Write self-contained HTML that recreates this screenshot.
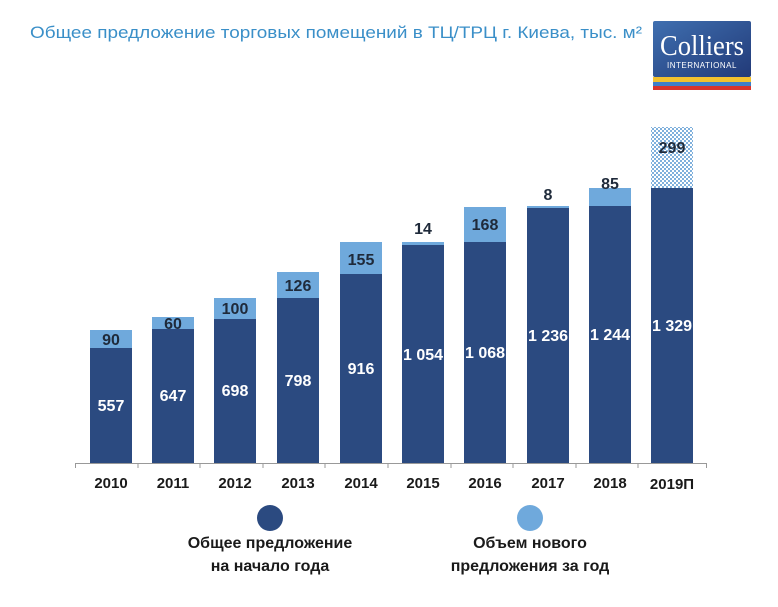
<!DOCTYPE html>
<html><head><meta charset="utf-8"><style>
body{margin:0;background:#fff;width:778px;height:607px;overflow:hidden}
svg{display:block}
text{font-family:"Liberation Sans",sans-serif}
</style></head><body>
<svg width="778" height="607" viewBox="0 0 778 607">
<defs>
<pattern id="h" width="4" height="4" patternUnits="userSpaceOnUse">
<rect width="4" height="4" fill="#ffffff"/>
<rect width="2" height="2" fill="#7fb0dc"/><rect x="2" y="2" width="2" height="2" fill="#7fb0dc"/>
</pattern>
<linearGradient id="lg" x1="0" y1="0" x2="1" y2="1">
<stop offset="0" stop-color="#3f6fb0"/><stop offset="1" stop-color="#223a78"/>
</linearGradient>
</defs>
<text x="30" y="38" font-size="17" fill="#3a8fc8" textLength="612" lengthAdjust="spacingAndGlyphs">Общее предложение торговых помещений в ТЦ/ТРЦ  г. Киева, тыс. м²</text>
<rect x="653" y="21" width="98" height="56" fill="url(#lg)" rx="2"/>
<text x="702" y="55" font-size="28" fill="#fff" text-anchor="middle" textLength="84" lengthAdjust="spacingAndGlyphs" style="font-family:'Liberation Serif',serif">Colliers</text>
<text x="702" y="68" font-size="8" fill="#fff" text-anchor="middle" letter-spacing="0.5">INTERNATIONAL</text>
<rect x="653" y="77" width="98" height="5" fill="#f2c12e"/>
<rect x="653" y="82" width="98" height="4" fill="#3f7fc8"/>
<rect x="653" y="86" width="98" height="4" fill="#d8342c"/>
<g id="bars">
<rect x="90" y="348" width="42" height="115" fill="#2b4a80"/><rect x="90" y="330" width="42" height="18" fill="#6fa9dc"/>
<rect x="152" y="329" width="42" height="134" fill="#2b4a80"/><rect x="152" y="317" width="42" height="12" fill="#6fa9dc"/>
<rect x="214" y="319" width="42" height="144" fill="#2b4a80"/><rect x="214" y="298" width="42" height="21" fill="#6fa9dc"/>
<rect x="277" y="298" width="42" height="165" fill="#2b4a80"/><rect x="277" y="272" width="42" height="26" fill="#6fa9dc"/>
<rect x="340" y="274" width="42" height="189" fill="#2b4a80"/><rect x="340" y="242" width="42" height="32" fill="#6fa9dc"/>
<rect x="402" y="245" width="42" height="218" fill="#2b4a80"/><rect x="402" y="242" width="42" height="3" fill="#6fa9dc"/>
<rect x="464" y="242" width="42" height="221" fill="#2b4a80"/><rect x="464" y="207" width="42" height="35" fill="#6fa9dc"/>
<rect x="527" y="208" width="42" height="255" fill="#2b4a80"/><rect x="527" y="206" width="42" height="2" fill="#6fa9dc"/>
<rect x="589" y="206" width="42" height="257" fill="#2b4a80"/><rect x="589" y="188" width="42" height="18" fill="#6fa9dc"/>
<rect x="651" y="188" width="42" height="275" fill="#2b4a80"/><rect x="651" y="127" width="42" height="61" fill="url(#h)"/>
</g>
<g stroke="#999" stroke-width="1">
<line x1="75" y1="463.5" x2="707" y2="463.5"/>
<line x1="75.5" y1="463" x2="75.5" y2="468"/><line x1="138" y1="463" x2="138" y2="468"/><line x1="200" y1="463" x2="200" y2="468"/><line x1="263" y1="463" x2="263" y2="468"/><line x1="325" y1="463" x2="325" y2="468"/><line x1="388" y1="463" x2="388" y2="468"/><line x1="451" y1="463" x2="451" y2="468"/><line x1="513" y1="463" x2="513" y2="468"/><line x1="576" y1="463" x2="576" y2="468"/><line x1="638" y1="463" x2="638" y2="468"/><line x1="706.5" y1="463" x2="706.5" y2="468"/>
</g>
<g font-size="15" font-weight="bold" fill="#1a1a1a" text-anchor="middle">
<text x="111" y="488">2010</text><text x="173" y="488">2011</text><text x="235" y="488">2012</text><text x="298" y="488">2013</text><text x="361" y="488">2014</text><text x="423" y="488">2015</text><text x="485" y="488">2016</text><text x="548" y="488">2017</text><text x="610" y="488">2018</text><text x="672" y="489">2019П</text>
</g>
<g font-size="16" font-weight="bold" fill="#fff" text-anchor="middle">
<text x="111" y="411">557</text><text x="173" y="401">647</text><text x="235" y="396">698</text><text x="298" y="386">798</text><text x="361" y="374">916</text><text x="423" y="360">1 054</text><text x="485" y="358">1 068</text><text x="548" y="341">1 236</text><text x="610" y="340">1 244</text><text x="672" y="331">1 329</text>
</g>
<g font-size="16" font-weight="bold" fill="#1f2a3a" text-anchor="middle">
<text x="111" y="345">90</text><text x="173" y="329">60</text><text x="235" y="314">100</text><text x="298" y="291">126</text><text x="361" y="265">155</text><text x="423" y="234">14</text><text x="485" y="230">168</text><text x="548" y="200">8</text><text x="610" y="189">85</text><text x="672" y="153">299</text>
</g>
<circle cx="270" cy="518" r="13" fill="#2b4a80"/>
<circle cx="530" cy="518" r="13" fill="#6fa9dc"/>
<g font-size="16" font-weight="bold" fill="#1a1a1a" text-anchor="middle">
<text x="270" y="548">Общее предложение</text><text x="270" y="571">на начало года</text>
<text x="530" y="548">Объем нового</text><text x="530" y="571">предложения за год</text>
</g>
</svg>
</body></html>
